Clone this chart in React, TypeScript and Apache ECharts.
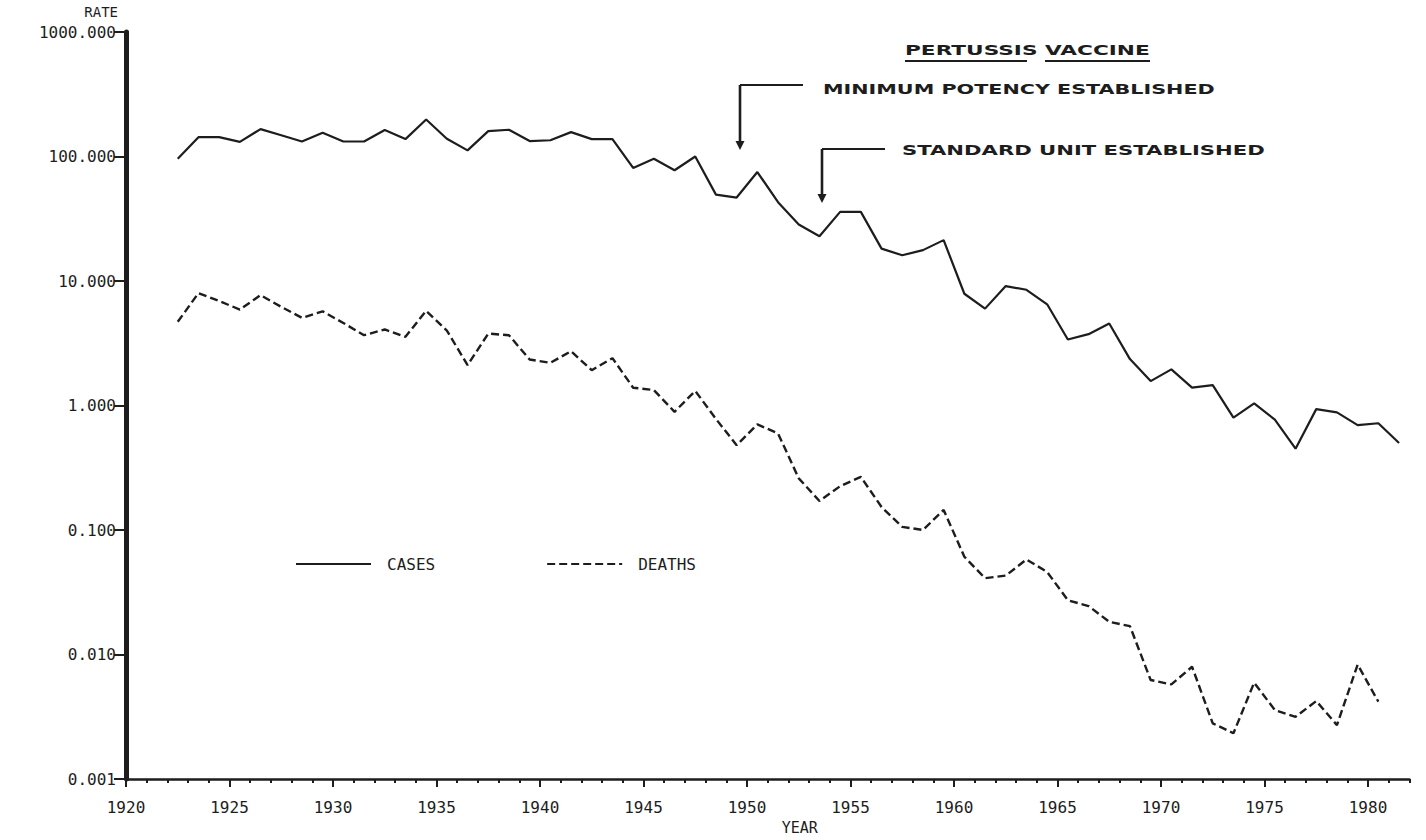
import { useEffect, useRef } from 'react';
import * as echarts from 'echarts';

// ---------- data ----------
const caseYears = [
  1922, 1923, 1924, 1925, 1926, 1927, 1928, 1929, 1930, 1931,
  1932, 1933, 1934, 1935, 1936, 1937, 1938, 1939, 1940, 1941,
  1942, 1943, 1944, 1945, 1946, 1947, 1948, 1949, 1950, 1951,
  1952, 1953, 1954, 1955, 1956, 1957, 1958, 1959, 1960, 1961,
  1962, 1963, 1964, 1965, 1966, 1967, 1968, 1969, 1970, 1971,
  1972, 1973, 1974, 1975, 1976, 1977, 1978, 1979, 1980, 1981,
];
const caseRates = [
  96, 143, 143, 131, 166, 148, 132, 155, 132, 132,
  163, 138, 198, 139, 112, 160, 164, 133, 135, 157,
  138, 138, 81, 96, 77.6, 100, 49.4, 46.8, 75, 43,
  28.4, 22.9, 35.9, 35.9, 18.2, 16.1, 17.7, 21.3, 7.9, 6.0,
  9.1, 8.5, 6.5, 3.39, 3.74, 4.56, 2.36, 1.57, 1.95, 1.39,
  1.46, 0.8, 1.04, 0.77, 0.45, 0.935, 0.88, 0.695, 0.72, 0.5,
];
const deathYears = [
  1922, 1923, 1924, 1925, 1926, 1927, 1928, 1929, 1930, 1931,
  1932, 1933, 1934, 1935, 1936, 1937, 1938, 1939, 1940, 1941,
  1942, 1943, 1944, 1945, 1946, 1947, 1948, 1949, 1950, 1951,
  1952, 1953, 1954, 1955, 1956, 1957, 1958, 1959, 1960, 1961,
  1962, 1963, 1964, 1965, 1966, 1967, 1968, 1969, 1970, 1971,
  1972, 1973, 1974, 1975, 1976, 1977, 1978, 1979, 1980,
];
const deathRates = [
  4.7, 8.0, 6.9, 5.9, 7.7, 6.2, 5.06, 5.7, 4.6, 3.67,
  4.08, 3.56, 5.76, 4.0, 2.11, 3.78, 3.67, 2.34, 2.2, 2.73,
  1.92, 2.4, 1.39, 1.33, 0.89, 1.31, 0.78, 0.48, 0.705, 0.596,
  0.26, 0.171, 0.225, 0.267, 0.153, 0.106, 0.1, 0.145, 0.061, 0.041,
  0.043, 0.058, 0.046, 0.0273, 0.0245, 0.0183, 0.0169, 0.00624, 0.00575, 0.00797,
  0.0028, 0.00233, 0.00594, 0.00358, 0.00316, 0.00423, 0.00271, 0.0083, 0.00418,
];
const yearTicks = [1920, 1925, 1930, 1935, 1940, 1945, 1950, 1955, 1960, 1965, 1970, 1975, 1980];
const rateTicks = [0.001, 0.01, 0.1, 1, 10, 100, 1000];
const seriesNames = ['CASES', 'DEATHS'];
const titleText = 'PERTUSSIS VACCINE';
const note1 = 'MINIMUM POTENCY ESTABLISHED';
const note2 = 'STANDARD UNIT ESTABLISHED';

// ---------- styling ----------
const INK = '#1d1d1d';
const MONO = '"DejaVu Sans Mono", "Liberation Mono", monospace';

function measure(text: string, font: string): number {
  const ctx = document.createElement('canvas').getContext('2d');
  if (!ctx) return 0;
  ctx.font = font;
  return ctx.measureText(text).width;
}

function fittedText(text: string, x: number, y: number, width: number, size: number) {
  const font = `bold ${size}px "DejaVu Sans"`;
  const w = measure(text, font);
  const sx = w > 0 ? width / w : 1;
  return {
    type: 'text',
    x,
    y,
    scaleX: sx,
    silent: true,
    style: {
      text,
      font,
      fill: INK,
      align: 'left',
      verticalAlign: 'middle',
      textAlign: 'left',
      textVerticalAlign: 'middle',
    },
  };
}

function arrow(xv: number, yTop: number, xEnd: number, tipY: number) {
  return [
    { type: 'line', silent: true, shape: { x1: xv, y1: yTop, x2: xEnd, y2: yTop }, style: { stroke: INK, lineWidth: 2.2 } },
    { type: 'line', silent: true, shape: { x1: xv, y1: yTop, x2: xv, y2: tipY - 6 }, style: { stroke: INK, lineWidth: 2.6 } },
    {
      type: 'polygon',
      silent: true,
      shape: { points: [[xv - 4.5, tipY - 9], [xv + 4.5, tipY - 9], [xv, tipY]] },
      style: { fill: INK },
    },
  ];
}

export default function App() {
  const ref = useRef<HTMLDivElement>(null);

  useEffect(() => {
    if (!ref.current) return;
    const chart = echarts.init(ref.current, null, { renderer: 'svg' });

    const axisFont = { fontFamily: MONO, fontSize: 16, color: INK };
    const xMin = yearTicks[0];
    const xMax = 1982;

    const option: any = {
      animation: false,
      backgroundColor: '#ffffff',
      grid: { left: 126, top: 32, width: 1283.4, height: 747, containLabel: false, outerBoundsMode: 'none' },
      legend: {
        data: seriesNames,
        left: 295,
        top: 556,
        padding: 0,
        itemWidth: 75,
        itemHeight: 14,
        itemGap: 111,
        selectedMode: false,
        itemStyle: { opacity: 0, color: 'rgba(0,0,0,0)', borderColor: 'rgba(0,0,0,0)', borderWidth: 0 },
        textStyle: { fontFamily: MONO, fontSize: 16, color: INK, padding: [0, 0, 0, 11] },
      },
      xAxis: [
        {
          type: 'value',
          min: xMin,
          max: xMax,
          interval: 1,
          position: 'bottom',
          axisLine: { show: true, onZero: false, lineStyle: { color: INK, width: 2.5 } },
          axisTick: { show: true, inside: false, length: 4, lineStyle: { color: INK, width: 2 } },
          axisLabel: { show: false },
          splitLine: { show: false },
        },
        {
          type: 'value',
          min: xMin,
          max: xMax,
          interval: 5,
          position: 'bottom',
          axisLine: { show: false, onZero: false },
          axisTick: { show: true, inside: false, length: 8, customValues: yearTicks, lineStyle: { color: INK, width: 2 } },
          axisLabel: {
            show: true,
            customValues: yearTicks,
            margin: 20,
            formatter: (v: number) => (yearTicks.indexOf(v) >= 0 ? String(v) : ''),
            ...axisFont,
          },
          splitLine: { show: false },
          name: 'YEAR',
          nameLocation: 'middle',
          nameGap: 41,
          nameTextStyle: { ...axisFont, fontSize: 15, padding: [0, 0, 0, 64] },
        },
      ],
      yAxis: {
        type: 'log',
        logBase: 10,
        min: rateTicks[0],
        max: rateTicks[rateTicks.length - 1],
        splitNumber: 6,
        axisLine: { show: true, onZero: false, lineStyle: { color: INK, width: 5 } },
        axisTick: { show: true, inside: false, length: 12, lineStyle: { color: INK, width: 2 } },
        axisLabel: { formatter: (v: number) => Number(v).toFixed(3), margin: 10, ...axisFont },
        splitLine: { show: false },
        name: 'RATE',
        nameLocation: 'end',
        nameGap: 13,
        nameTextStyle: { ...axisFont, fontSize: 14, align: 'right', padding: [0, 8, 0, 0] },
      },
      series: [
        {
          name: seriesNames[0],
          type: 'line',
          xAxisIndex: 0,
          data: caseYears.map((y, i) => [y + 0.5, caseRates[i]]),
          symbol: 'none',
          silent: true,
          lineStyle: { color: INK, width: 2.2, type: 'solid' },
          itemStyle: { color: INK },
        },
        {
          name: seriesNames[1],
          type: 'line',
          xAxisIndex: 0,
          data: deathYears.map((y, i) => [y + 0.5, deathRates[i]]),
          symbol: 'none',
          silent: true,
          lineStyle: { color: INK, width: 2.4, type: [8, 4] },
          itemStyle: { color: INK },
        },
      ],
      graphic: [
        fittedText(titleText, 905, 50, 245, 14),
        { type: 'line', silent: true, shape: { x1: 905, y1: 61, x2: 1027, y2: 61 }, style: { stroke: INK, lineWidth: 2 } },
        { type: 'line', silent: true, shape: { x1: 1045, y1: 61, x2: 1150, y2: 61 }, style: { stroke: INK, lineWidth: 2 } },
        fittedText(note1, 823, 89, 392, 14),
        fittedText(note2, 902, 150, 363, 14),
        ...arrow(740, 85, 803, 150),
        ...arrow(822, 149, 885, 203),
      ],
    };

    chart.setOption(option);
    return () => chart.dispose();
  }, []);

  return (
    <div
      ref={ref}
      style={{ position: 'fixed', left: 0, top: 0, width: 1426, height: 840, background: '#ffffff' }}
    />
  );
}
